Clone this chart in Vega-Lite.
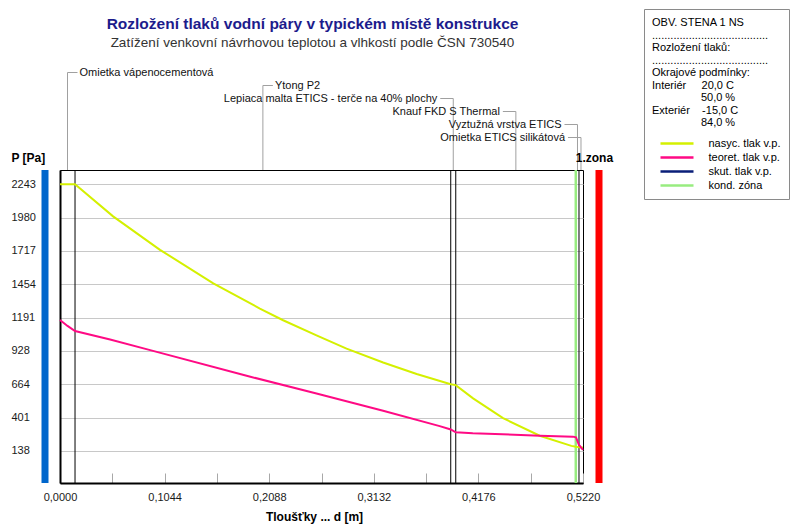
{
  "$schema": "https://vega.github.io/schema/vega-lite/v6.json",
  "width": 523,
  "height": 313,
  "autosize": {"type": "none"},
  "padding": {"left": 60, "top": 170, "right": 207, "bottom": 41},
  "background": "#ffffff",
  "config": {
    "font": "Liberation Sans",
    "view": {"stroke": "#000000", "strokeWidth": 1},
    "text": {"font": "Liberation Sans", "fontSize": 11, "color": "#111111"}
  },
  "title": {
    "text": "Rozložení tlaků vodní páry v typickém místě konstrukce",
    "subtitle": "Zatížení venkovní návrhovou teplotou a vlhkostí podle ČSN 730540",
    "anchor": "middle",
    "frame": "group",
    "font": "Liberation Sans",
    "fontSize": 15.5,
    "fontWeight": "bold",
    "color": "#1c1c8c",
    "subtitleFont": "Liberation Sans",
    "subtitleFontSize": 13.5,
    "subtitleColor": "#333333",
    "subtitlePadding": 4,
    "offset": -41,
    "dx": -9
  },
  "datasets": {
    "krivky": [
      {"krivka": "nasyc. tlak v.p.", "d": 0, "p": 2243},
      {"krivka": "nasyc. tlak v.p.", "d": 0.015, "p": 2243},
      {"krivka": "nasyc. tlak v.p.", "d": 0.053, "p": 1990},
      {"krivka": "nasyc. tlak v.p.", "d": 0.0998, "p": 1726},
      {"krivka": "nasyc. tlak v.p.", "d": 0.153, "p": 1461},
      {"krivka": "nasyc. tlak v.p.", "d": 0.1995, "p": 1262},
      {"krivka": "nasyc. tlak v.p.", "d": 0.2227, "p": 1170},
      {"krivka": "nasyc. tlak v.p.", "d": 0.256, "p": 1050},
      {"krivka": "nasyc. tlak v.p.", "d": 0.286, "p": 946},
      {"krivka": "nasyc. tlak v.p.", "d": 0.3225, "p": 836},
      {"krivka": "nasyc. tlak v.p.", "d": 0.356, "p": 745},
      {"krivka": "nasyc. tlak v.p.", "d": 0.39, "p": 665},
      {"krivka": "nasyc. tlak v.p.", "d": 0.395, "p": 658},
      {"krivka": "nasyc. tlak v.p.", "d": 0.4123, "p": 553},
      {"krivka": "nasyc. tlak v.p.", "d": 0.4422, "p": 397},
      {"krivka": "nasyc. tlak v.p.", "d": 0.4788, "p": 258},
      {"krivka": "nasyc. tlak v.p.", "d": 0.5104, "p": 178},
      {"krivka": "nasyc. tlak v.p.", "d": 0.515, "p": 171},
      {"krivka": "nasyc. tlak v.p.", "d": 0.518, "p": 168},
      {"krivka": "nasyc. tlak v.p.", "d": 0.522, "p": 166},
      {"krivka": "teoret. tlak v.p.", "d": 0, "p": 1172},
      {"krivka": "teoret. tlak v.p.", "d": 0.0075, "p": 1125},
      {"krivka": "teoret. tlak v.p.", "d": 0.015, "p": 1085},
      {"krivka": "teoret. tlak v.p.", "d": 0.05, "p": 1018},
      {"krivka": "teoret. tlak v.p.", "d": 0.09, "p": 934},
      {"krivka": "teoret. tlak v.p.", "d": 0.19, "p": 724},
      {"krivka": "teoret. tlak v.p.", "d": 0.256, "p": 591},
      {"krivka": "teoret. tlak v.p.", "d": 0.3225, "p": 456},
      {"krivka": "teoret. tlak v.p.", "d": 0.379, "p": 334},
      {"krivka": "teoret. tlak v.p.", "d": 0.39, "p": 308},
      {"krivka": "teoret. tlak v.p.", "d": 0.395, "p": 285},
      {"krivka": "teoret. tlak v.p.", "d": 0.412, "p": 277},
      {"krivka": "teoret. tlak v.p.", "d": 0.479, "p": 259},
      {"krivka": "teoret. tlak v.p.", "d": 0.512, "p": 251},
      {"krivka": "teoret. tlak v.p.", "d": 0.515, "p": 246},
      {"krivka": "teoret. tlak v.p.", "d": 0.518, "p": 185},
      {"krivka": "teoret. tlak v.p.", "d": 0.522, "p": 146}
    ],
    "hranice": [
      {"d": 0.015},
      {"d": 0.39},
      {"d": 0.395},
      {"d": 0.515},
      {"d": 0.518}
    ],
    "strany": [
      {"strana": "interiér", "d": 0},
      {"strana": "exteriér", "d": 0.522}
    ],
    "zona": [
      {"krivka": "kond. zóna", "d": 0.5148, "nazev": "1.zona", "rada": 7.6}
    ],
    "vrstvy": [
      {"nazev": "Omietka vápenocementová", "d": 0.0075, "rada": 1},
      {"nazev": "Ytong P2", "d": 0.2025, "rada": 2},
      {"nazev": "Lepiaca malta ETICS - terče na 40% plochy", "d": 0.3925, "rada": 3},
      {"nazev": "Knauf FKD S Thermal", "d": 0.455, "rada": 4},
      {"nazev": "Vyztužná vrstva ETICS", "d": 0.5165, "rada": 5},
      {"nazev": "Omietka ETICS silikátová", "d": 0.52, "rada": 6}
    ]
  },
  "encoding": {
    "x": {
      "field": "d",
      "type": "quantitative",
      "scale": {"domain": [0, 0.522], "nice": false, "zero": false},
      "axis": {
        "values": [0, 0.0522, 0.1044, 0.1566, 0.2088, 0.261, 0.3132, 0.3654, 0.4176, 0.4698, 0.522],
        "labelExpr": "round(datum.value / 0.0522) % 2 === 0 ? replace(format(datum.value, '.4f'), '.', ',') : ''",
        "grid": false,
        "tickSize": -10,
        "tickColor": "#a8a8a8",
        "tickWidth": 1,
        "domainColor": "#000000",
        "domainWidth": 2,
        "labelFontSize": 11,
        "labelColor": "#1a1a1a",
        "labelPadding": 18,
        "labelFlush": false,
        "labelOverlap": false,
        "title": "Tloušťky ... d [m]",
        "titleFontSize": 12,
        "titleFontWeight": "bold",
        "titleColor": "#000000",
        "titlePadding": 9,
        "titleX": 254
      }
    }
  },
  "layer": [
    {
      "layer": [
        {
          "data": {"name": "strany"},
          "transform": [{"filter": "datum.strana === 'interiér'"}],
          "mark": {"type": "rule", "color": "#0066cc", "strokeWidth": 7, "xOffset": -15},
          "encoding": {}
        },
        {
          "data": {"name": "strany"},
          "transform": [{"filter": "datum.strana === 'exteriér'"}],
          "mark": {"type": "rule", "color": "#ff0000", "strokeWidth": 7, "xOffset": 16},
          "encoding": {}
        },
        {
          "data": {"name": "hranice"},
          "mark": {"type": "rule", "color": "#000000", "strokeWidth": 1},
          "encoding": {}
        },
        {
          "data": {"name": "zona"},
          "mark": {"type": "rule", "strokeWidth": 2.5},
          "encoding": {
            "color": {
              "field": "krivka",
              "type": "nominal",
              "scale": {
                "domain": ["nasyc. tlak v.p.", "teoret. tlak v.p.", "skut. tlak v.p.", "kond. zóna"],
                "range": ["#d4f000", "#ff0a84", "#0a1e78", "#98ec80"]
              }
            }
          }
        },
        {
          "data": {"name": "krivky"},
          "mark": {"type": "line", "strokeWidth": 2},
          "encoding": {
            "y": {
              "field": "p",
              "type": "quantitative",
              "scale": {"domain": [-115, 2356], "nice": false, "zero": false},
              "axis": {
                "values": [138, 401, 664, 928, 1191, 1454, 1717, 1980, 2243],
                "format": "d",
                "ticks": false,
                "labelAlign": "left",
                "labelBaseline": "middle",
                "labelPadding": 49,
                "labelFontSize": 11,
                "labelColor": "#1a1a1a",
                "labelFlush": false,
                "labelOverlap": false,
                "domainColor": "#000000",
                "domainWidth": 2,
                "grid": true,
                "gridColor": "#c8c8c8",
                "gridWidth": 1,
                "title": "P [Pa]",
                "titleAngle": 0,
                "titleAlign": "left",
                "titleBaseline": "middle",
                "titleX": -49,
                "titleY": -13,
                "titleFontSize": 12,
                "titleFontWeight": "bold",
                "titleColor": "#000000"
              }
            },
            "color": {
              "field": "krivka",
              "type": "nominal",
              "scale": {
                "domain": ["nasyc. tlak v.p.", "teoret. tlak v.p.", "skut. tlak v.p.", "kond. zóna"],
                "range": ["#d4f000", "#ff0a84", "#0a1e78", "#98ec80"]
              },
              "legend": {
                "orient": "none",
                "legendX": 584,
                "legendY": -161,
                "title": [
                  "OBV. STENA 1 NS",
                  "......................................\u00a0\u00a0\u00a0\u00a0\u200b",
                  "Rozložení tlaků:",
                  "......................................",
                  "Okrajové podmínky:",
                  "Interiér\u00a0\u00a0\u00a0\u00a0\u00a020,0 C",
                  "\u200b\u00a0\u00a0\u00a0\u00a0\u00a0\u00a0\u00a0\u00a0\u00a0\u00a0\u00a0\u00a0\u00a0\u00a0\u00a0\u00a050,0 %",
                  "Exteriér\u00a0\u00a0\u00a0\u00a0-15,0 C",
                  "\u200b\u00a0\u00a0\u00a0\u00a0\u00a0\u00a0\u00a0\u00a0\u00a0\u00a0\u00a0\u00a0\u00a0\u00a0\u00a0\u00a084,0 %"
                ],
                "titleFont": "Liberation Sans",
                "titleFontSize": 11,
                "titleFontWeight": "normal",
                "titleColor": "#000000",
                "titleLineHeight": 12.5,
                "titlePadding": 10,
                "titleLimit": 400,
                "titleAnchor": "start",
                "padding": 8,
                "strokeColor": "#8a8a8a",
                "fillColor": "#ffffff",
                "symbolType": "M-5.5,0H5.5",
                "symbolSize": 36,
                "symbolStrokeWidth": 2.5,
                "symbolOffset": 19.5,
                "labelOffset": 26,
                "labelFont": "Liberation Sans",
                "labelFontSize": 11,
                "labelColor": "#000000",
                "labelLimit": 200,
                "rowPadding": 2
              }
            }
          }
        }
      ]
    },
    {
      "encoding": {
        "y": {
          "field": "rada",
          "type": "quantitative",
          "scale": {"domain": [0, 8.5], "range": [-110.5, 0], "nice": false, "zero": false},
          "axis": null
        }
      },
      "layer": [
        {
          "data": {"name": "vrstvy"},
          "mark": {"type": "rule", "color": "#a0a0a0", "strokeWidth": 1},
          "encoding": {"y2": {"datum": 8.5}}
        },
        {
          "data": {"name": "vrstvy"},
          "transform": [{"filter": "datum.rada <= 2"}],
          "mark": {"type": "rule", "color": "#a0a0a0", "strokeWidth": 1, "x2Offset": 10},
          "encoding": {"x2": {"field": "d"}}
        },
        {
          "data": {"name": "vrstvy"},
          "transform": [{"filter": "datum.rada > 2"}],
          "mark": {"type": "rule", "color": "#a0a0a0", "strokeWidth": 1, "xOffset": -13},
          "encoding": {"x2": {"field": "d"}}
        },
        {
          "data": {"name": "vrstvy"},
          "transform": [{"filter": "datum.rada <= 2"}],
          "mark": {"type": "text", "align": "left", "baseline": "middle", "dx": 12, "fontSize": 11},
          "encoding": {"text": {"field": "nazev"}}
        },
        {
          "data": {"name": "vrstvy"},
          "transform": [{"filter": "datum.rada > 2"}],
          "mark": {"type": "text", "align": "right", "baseline": "middle", "dx": -16, "fontSize": 11},
          "encoding": {"text": {"field": "nazev"}}
        },
        {
          "data": {"name": "zona"},
          "mark": {"type": "text", "align": "left", "baseline": "middle", "fontSize": 12, "fontWeight": "bold", "color": "#000000"},
          "encoding": {"text": {"field": "nazev"}}
        }
      ]
    }
  ],
  "resolve": {"scale": {"y": "independent"}}
}
